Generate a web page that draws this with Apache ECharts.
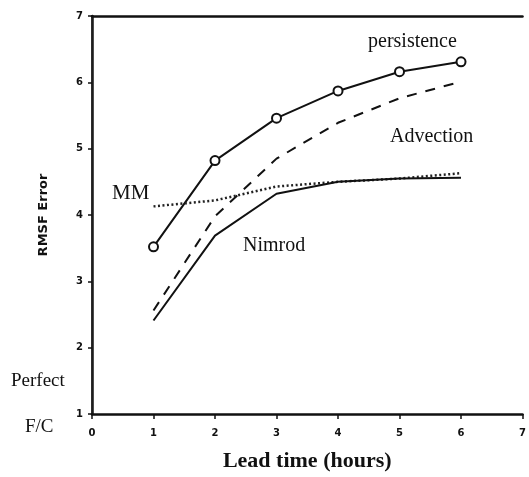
<!DOCTYPE html>
<html>
<head>
<meta charset="utf-8">
<script src="https://cdn.jsdelivr.net/npm/echarts@6/dist/echarts.min.js"></script>
<style>
  html, body { margin: 0; padding: 0; background: #fff; }
  #chart { width: 529px; height: 477px; }
</style>
</head>
<body>
<div id="chart"></div>
<script>
const leadHours = [1, 2, 3, 4, 5, 6];
const persistence = [3.52, 4.82, 5.46, 5.87, 6.16, 6.31];
const advection = [2.56, 3.98, 4.85, 5.39, 5.76, 6.01];
const mm = [4.13, 4.22, 4.43, 4.5, 4.55, 4.63];
const nimrod = [2.41, 3.69, 4.32, 4.5, 4.55, 4.56];

const pairs = (ys) => leadHours.map((x, i) => [x, ys[i]]);

const chart = echarts.init(document.getElementById("chart"));

const tickFont = { fontFamily: "DejaVu Sans", fontWeight: "bold", fontSize: 10, color: "#111" };
const serif = "Liberation Serif";

chart.setOption({
  animation: false,
  backgroundColor: "#fff",
  grid: { left: 92, right: 2, top: 16, bottom: 60 },
  xAxis: [
    {
      type: "value",
      min: 0,
      max: 7,
      interval: 1,
      name: "Lead time (hours)",
      nameLocation: "middle",
      nameGap: 36,
      nameTextStyle: { fontFamily: serif, fontWeight: "bold", fontSize: 22, color: "#111" },
      axisLine: { lineStyle: { color: "#111", width: 2.5 } },
      axisTick: { length: 5, lineStyle: { color: "#111", width: 1.5 } },
      axisLabel: Object.assign({ margin: 14 }, tickFont),
      splitLine: { show: false },
    },
    {
      type: "value",
      position: "top",
      min: 0,
      max: 7,
      axisLine: { show: true, lineStyle: { color: "#111", width: 2.5 } },
      axisTick: { show: false },
      axisLabel: { show: false },
      splitLine: { show: false },
    },
  ],
  yAxis: [
    {
      type: "value",
      min: 1,
      max: 7,
      interval: 1,
      name: "RMSF Error",
      nameLocation: "middle",
      nameGap: 42,
      nameRotate: 90,
      nameTextStyle: { fontFamily: "DejaVu Sans", fontWeight: "bold", fontSize: 13, color: "#111" },
      axisLine: { show: true, lineStyle: { color: "#111", width: 2.5 } },
      axisTick: { show: true, length: 4, lineStyle: { color: "#111", width: 1.5 } },
      axisLabel: Object.assign({ margin: 9 }, tickFont),
      splitLine: { show: false },
    },
    {
      type: "value",
      position: "right",
      min: 1,
      max: 7,
      axisLine: { show: true, lineStyle: { color: "#222", width: 1.5 } },
      axisTick: { show: false },
      axisLabel: { show: false },
      splitLine: { show: false },
    },
  ],
  series: [
    {
      name: "persistence",
      type: "line",
      data: pairs(persistence),
      symbol: "circle",
      symbolSize: 9,
      itemStyle: { color: "#fff", borderColor: "#111", borderWidth: 2 },
      lineStyle: { color: "#111", width: 2 },
    },
    {
      name: "Advection",
      type: "line",
      data: pairs(advection),
      showSymbol: false,
      lineStyle: { color: "#111", width: 2, type: [10, 9] },
    },
    {
      name: "MM",
      type: "line",
      data: pairs(mm),
      showSymbol: false,
      lineStyle: { color: "#222", width: 2.5, type: [2, 2.5] },
    },
    {
      name: "Nimrod",
      type: "line",
      data: pairs(nimrod),
      showSymbol: false,
      lineStyle: { color: "#111", width: 2 },
    },
  ],
  graphic: [
    { type: "text", left: 368, top: 32, style: { text: "persistence", font: "20px " + serif, fill: "#111" } },
    { type: "text", left: 390, top: 127, style: { text: "Advection", font: "20px " + serif, fill: "#111" } },
    { type: "text", left: 112, top: 183, style: { text: "MM", font: "21px " + serif, fill: "#111" } },
    { type: "text", left: 243, top: 236, style: { text: "Nimrod", font: "20px " + serif, fill: "#111" } },
    { type: "text", left: 11, top: 372, style: { text: "Perfect", font: "19px " + serif, fill: "#111" } },
    { type: "text", left: 25, top: 418, style: { text: "F/C", font: "19px " + serif, fill: "#111" } },
  ],
});
</script>
</body>
</html>
